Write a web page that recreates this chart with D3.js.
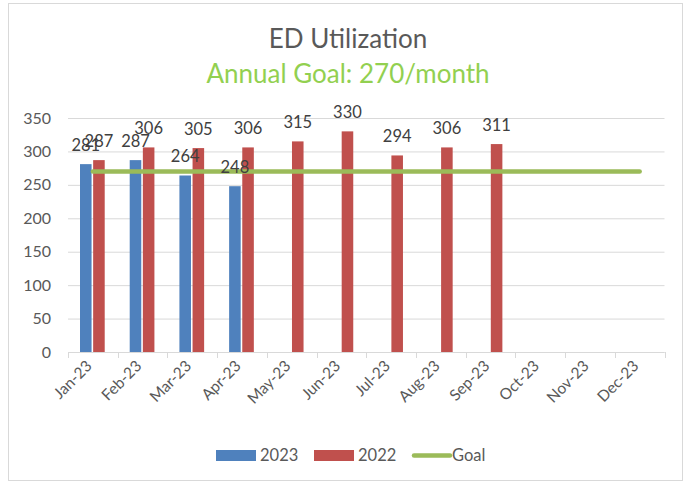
<!DOCTYPE html>
<html>
<head>
<meta charset="utf-8">
<script src="https://cdn.jsdelivr.net/npm/d3@7"></script>
<style>
  body { margin: 0; background: #fff; }
  svg { font-family: Lato, "Open Sans", sans-serif; }
</style>
</head>
<body>
<script>
// chart values
const months = ["Jan-23", "Feb-23", "Mar-23", "Apr-23", "May-23", "Jun-23",
                "Jul-23", "Aug-23", "Sep-23", "Oct-23", "Nov-23", "Dec-23"];
const util2023 = [281, 287, 264, 248, null, null, null, null, null, null, null, null];
const util2022 = [287, 306, 305, 306, 315, 330, 294, 306, 311, null, null, null];
const goal = [270, 270, 270, 270, 270, 270, 270, 270, 270, 270, 270, 270];
const yTicks = [0, 50, 100, 150, 200, 250, 300, 350];

const W = 692, H = 485;
const svg = d3.select("body").append("svg")
    .attr("width", W)
    .attr("height", H);

// outer frame
svg.append("rect")
    .attr("x", 8.5).attr("y", 3.5)
    .attr("width", 674).attr("height", 477)
    .attr("fill", "#fff")
    .attr("stroke", "#D9D9D9");

// titles
svg.append("text")
    .attr("x", 348).attr("y", 48)
    .attr("text-anchor", "middle")
    .attr("font-size", 26)
    .attr("fill", "#595959")
    .text("ED Utilization");
svg.append("text")
    .attr("x", 348).attr("y", 83)
    .attr("text-anchor", "middle")
    .attr("font-size", 26)
    .attr("fill", "#92D050")
    .text("Annual Goal: 270/month");

// scales
const x = d3.scaleBand().domain(months).range([68, 664.5]);
const inner = d3.scaleBand().domain(["2023", "2022"]).range([12, x.bandwidth() - 13]).paddingInner(0.12);
const y = d3.scaleLinear().domain([0, 350]).range([352, 118]);

// gridlines
svg.append("g")
    .attr("class", "grid")
    .attr("transform", "translate(68,0)")
    .call(d3.axisLeft(y).tickValues(yTicks).tickSize(-(664.5 - 68)).tickFormat(""))
    .call(g => g.select(".domain").remove())
    .call(g => g.selectAll("line").attr("stroke", "#D9D9D9"));

// y labels
svg.append("g")
    .selectAll("text")
    .data(yTicks)
    .join("text")
    .attr("x", 51)
    .attr("y", d => y(d) + 5.5)
    .attr("text-anchor", "end")
    .attr("font-size", 16)
    .attr("fill", "#595959")
    .text(d => d);

// x axis line + tick marks at band boundaries
const xg = svg.append("g");
xg.append("line")
    .attr("x1", 68).attr("x2", 664.5)
    .attr("y1", 352.5).attr("y2", 352.5)
    .attr("stroke", "#D9D9D9");
xg.selectAll("line.tk")
    .data(months.concat(["end"]))
    .join("line")
    .attr("class", "tk")
    .attr("x1", (d, i) => Math.round(68 + i * x.step()) + 0.5)
    .attr("x2", (d, i) => Math.round(68 + i * x.step()) + 0.5)
    .attr("y1", 352).attr("y2", 358)
    .attr("stroke", "#D9D9D9");

// x labels
xg.selectAll("text")
    .data(months)
    .join("text")
    .attr("transform", d => "translate(" + (x(d) + x.bandwidth() / 2) + ",367) rotate(-45)")
    .attr("text-anchor", "end")
    .attr("font-size", 15.5)
    .attr("fill", "#595959")
    .text(d => d);

// bars
const series = [
    {name: "2023", values: util2023, color: "#4F81BD"},
    {name: "2022", values: util2022, color: "#C0504D"}
];

series.forEach(s => {
    const pts = months.map((m, i) => ({m: m, v: s.values[i]})).filter(d => d.v != null);
    svg.append("g")
        .selectAll("rect")
        .data(pts)
        .join("rect")
        .attr("x", d => x(d.m) + inner(s.name))
        .attr("y", d => y(d.v))
        .attr("width", inner.bandwidth())
        .attr("height", d => y(0) - y(d.v))
        .attr("fill", s.color);
});

// goal line
const line = d3.line()
    .x((d, i) => x(months[i]) + x.bandwidth() / 2)
    .y(d => y(d));
svg.append("path")
    .datum(goal)
    .attr("d", line)
    .attr("fill", "none")
    .attr("stroke", "#9BBB59")
    .attr("stroke-width", 4.5)
    .attr("stroke-linecap", "round");

// data labels
series.forEach(s => {
    const pts = months.map((m, i) => ({m: m, v: s.values[i]})).filter(d => d.v != null);
    svg.append("g")
        .selectAll("text")
        .data(pts)
        .join("text")
        .attr("x", d => x(d.m) + inner(s.name) + inner.bandwidth() / 2)
        .attr("y", d => y(d.v) - 13)
        .attr("text-anchor", "middle")
        .attr("font-size", 16.5)
        .attr("fill", "#404040")
        .text(d => d.v);
});

// legend
const legend = svg.append("g");
legend.append("rect").attr("x", 216).attr("y", 450).attr("width", 40).attr("height", 11).attr("fill", "#4F81BD");
legend.append("text").attr("x", 260).attr("y", 461).attr("font-size", 16.5).attr("fill", "#595959").text("2023");
legend.append("rect").attr("x", 314).attr("y", 450).attr("width", 40).attr("height", 11).attr("fill", "#C0504D");
legend.append("text").attr("x", 358).attr("y", 461).attr("font-size", 16.5).attr("fill", "#595959").text("2022");
legend.append("line").attr("x1", 414).attr("x2", 450).attr("y1", 455.5).attr("y2", 455.5)
    .attr("stroke", "#9BBB59").attr("stroke-width", 4.5).attr("stroke-linecap", "round");
legend.append("text").attr("x", 452).attr("y", 461).attr("font-size", 16.5).attr("fill", "#595959").text("Goal");
</script>
</body>
</html>
